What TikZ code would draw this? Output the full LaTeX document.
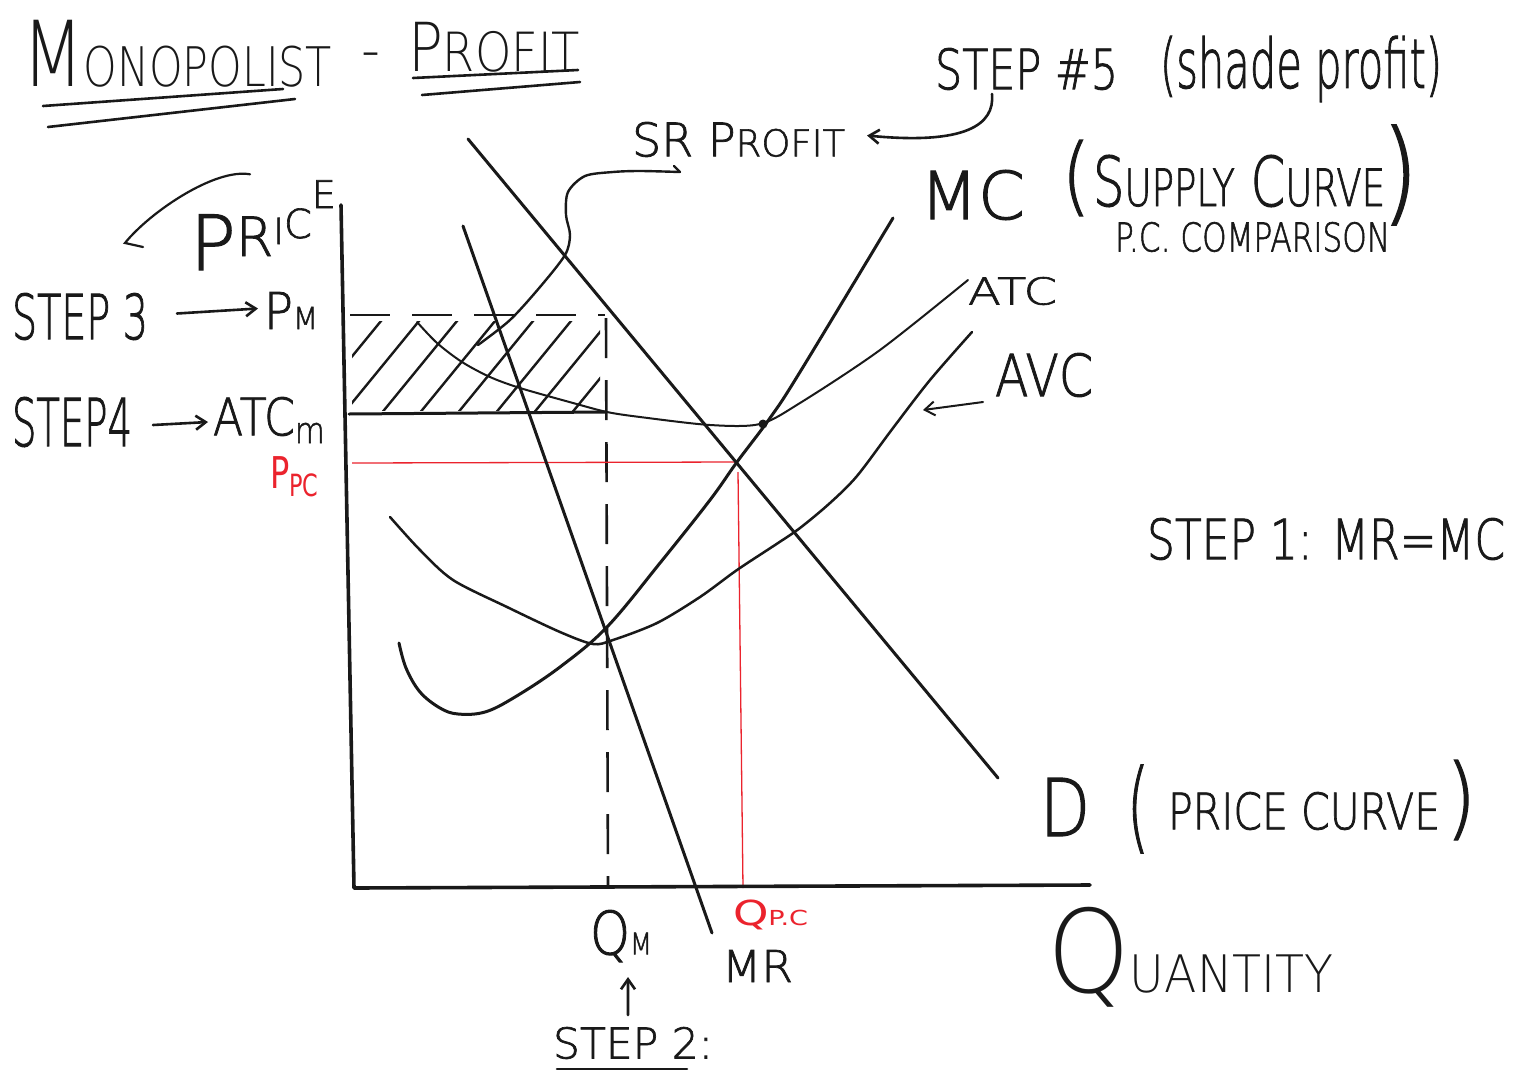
\documentclass[tikz,border=0pt]{standalone}
\usepackage{fontspec}
\usepackage{graphicx}
\setmainfont{DejaVu Sans}
\IfFontExistsTF{DejaVu Sans ExtraLight}{%
  \newfontfamily\thinf{DejaVu Sans ExtraLight}%
  \newfontfamily\medf{DejaVu Sans ExtraLight}[FakeBold=1.6]}{%
  \newfontfamily\thinf{DejaVu Sans}%
  \newfontfamily\medf{DejaVu Sans}}
\usetikzlibrary{arrows.meta}
\definecolor{ink}{RGB}{25,25,25}
\definecolor{redink}{RGB}{235,35,45}
\newcommand{\fitto}[3]{\resizebox*{#1pt}{#2pt}{#3}}
\newcommand{\fs}[1]{\fontsize{#1}{#1}\selectfont}
\tikzset{
 lab/.style={inner sep=0pt, outer sep=0pt, anchor=north west, text=ink},
 axisline/.style={draw=ink, line width=3.6pt, line cap=round, line join=round},
 curveline/.style={draw=ink, line width=3pt, line cap=round},
 thincurve/.style={draw=ink, line width=2pt, line cap=round},
 redline/.style={draw=redink, line width=1.3pt},
 hatchline/.style={draw=ink, line width=2.4pt, line cap=round},
 guide/.style={draw=ink, line width=2.6pt, dash pattern=on 40pt off 22pt},
 pen/.style={draw=ink, line width=2.6pt, line cap=round},
 penarrow/.style={pen, -{Straight Barb[length=10pt,width=14pt]}},
}
\begin{document}
\begin{tikzpicture}[x=1pt,y=-1pt]
\fill[white] (0,0) rectangle (1515,1071);
\useasboundingbox (0,0) rectangle (1515,1071);

% ---- title ----
\node[lab] (title) at (22,20) {\thinf\fitto{310}{67}{M\scalebox{.6}{ONOPOLIST}}};
\node[inner sep=0pt, text=ink] (dash) at (371,58) {\fs{34}–};
\node[lab] (profit) at (408,22) {\thinf\fitto{172}{50}{P\scalebox{.8}{ROFIT}}};
\draw[pen] (43,106) -- (283,89);
\draw[pen] (48,127) -- (295,99);
\draw[pen] (413,78) -- (578,70);
\draw[pen] (422,95) -- (580,82);

% ---- labels ----
\node[lab] (step5) at (935,48) {\medf\fitto{183}{42}{STEP \#5}};
\node[lab] (shade) at (1160,36) {\medf\fitto{282}{66}{(shade profit)}};
\node[lab] (srp) at (632,122) {\medf\fitto{213}{35}{SR P\scalebox{.8}{ROFIT}}};
\node[lab] (mc) at (920,170) {\medf\fitto{105}{50}{MC}};
\node[lab] (lp1) at (1062,140) {\medf\fitto{28}{76}{(}};
\node[lab] (supply) at (1093,155) {\medf\fitto{292}{52}{S\scalebox{.75}{UPPLY} C\scalebox{.75}{URVE}}};
\node[lab] (rp1) at (1382,125) {\medf\fitto{36}{100}{)}};
\node[lab] (pccomp) at (1115,222) {\medf\fitto{275}{30}{P.C. COMPARISON}};
\node[lab] (atclab) at (968,277) {\medf\fitto{89}{28}{ATC}};
\node[lab] (avclab) at (995,353) {\medf\fitto{98}{44}{AVC}};
\node[lab] (price) at (190,180.3) {\medf\fs{76}P\raisebox{14pt}{\fs{54}R}\raisebox{26pt}{\fs{36}I}\raisebox{32pt}{\fs{40}C}\raisebox{62pt}{\fs{38}E}};
\draw[pen, line width=2.2pt] (price.north west) ++(60,-6) .. controls (215,168) and (150,212) .. (125,243) -- (143,247);

\node[lab] (step3) at (12,293) {\medf\fitto{136}{47}{STEP 3}};
\node[lab] (pm) at (264,292) {\medf\fitto{54}{37}{P\scalebox{.6}{M}}};
\draw[penarrow] ([xshift=29pt,yshift=3pt]step3.east) -- ([xshift=-6pt,yshift=2pt]pm.west);

\node[lab] (step4) at (12,397) {\medf\fitto{120}{50}{STEP4}};
\node[lab] (atcm) at (213,397) {\medf\fitto{114}{46}{ATC\textsubscript{m}}};
\draw[penarrow] ([xshift=21pt,yshift=-3pt]step4.east) -- ([xshift=-5pt,yshift=-2pt]atcm.west);

\node[lab, text=redink] (ppc) at (270,457) {\fitto{50}{40}{P\textsubscript{PC}}};

\node[lab] (step1) at (1147,518) {\medf\fitto{358}{42}{STEP 1: MR=MC}};
\node[lab] (dlab) at (1040,778) {\medf\fitto{50}{58}{D}};
\node[lab] (lp2) at (1127,765) {\medf\fitto{22}{88}{(}};
\node[lab] (pcurve) at (1168,792) {\medf\fitto{272}{38}{PRICE CURVE}};
\node[lab] (rp2) at (1446,760) {\medf\fitto{30}{80}{)}};
\node[lab] (qty) at (1047,907) {\thinf\fitto{286}{100}{Q\scalebox{.45}{UANTITY}}};

\node[lab] (qm) at (590,910) {\medf\fitto{62}{52}{Q\scalebox{.5}{M}}};
\node[lab] (step2) at (553,1027) {\medf\fitto{160}{32}{STEP 2:}};
\draw[pen] (557,1069) -- (687,1069);
\draw[penarrow] ([xshift=-5pt,yshift=12pt]step2.north) -- ([xshift=7pt,yshift=-15pt]qm.south);
\node[lab] (mrlab) at (722,950) {\medf\fitto{71}{32}{MR}};
\node[lab, text=redink] (qpc) at (733,900) {\fitto{75}{30}{Q\scalebox{.6}{P.C}}};

% ---- shaded profit ----
\begin{scope}
\clip (352,321) rectangle (600,410);
\foreach \x in {300,338,...,600} \draw[hatchline] (\x,420) -- (\x+90,310);
\end{scope}
\draw[guide] (350,315) -- (605,315);
\draw[pen, line width=3pt] (349,414) -- (605,412);
\draw[guide] (606,318) -- (608,888);

% ---- red P.C. guides ----
\draw[redline] (352,463) -- (737,462);
\draw[redline] (738,472) -- (743,888);

% ---- axes and curves ----
\draw[axisline] (341,205) -- (354,888) -- (1090,885);
\draw[curveline] (468,139) -- (998,778);
\draw[curveline] (463,226) -- (712,933);
\draw[curveline] plot[smooth, tension=0.6] coordinates {(399,643) (406,668) (420,692) (440,708) (458,714) (485,712) (515,697) (560,667) (607,627) (660,563) (710,500) (737,462) (770,418) (800,372) (893,218)};
\draw[thincurve] plot[smooth] coordinates {(417,322) (437,343) (462,362) (490,377) (520,388) (573,403) (607,412) (640,417) (710,425) (760,424) (800,403) (880,350) (968,280)};
\draw[curveline, line width=2.5pt] plot[smooth] coordinates {(390,517) (420,550) (453,580) (507,607) (560,632) (593,644) (613,640) (657,623) (700,597) (737,570) (775,545) (800,528) (830,503) (857,476) (893,428) (930,380) (972,332)};
\fill[ink] (763,424) circle (4.5pt);

% ---- pointers ----
\coordinate (shaded) at (478,345);
\draw[pen, line width=2.4pt] ([xshift=42pt,yshift=-9pt]srp.south west) -- ([xshift=48pt,yshift=-15pt]srp.south west);
\draw[pen, line width=2.4pt] plot[smooth] coordinates {([xshift=48pt,yshift=-15pt]srp.south west) (640,171) (613,172) (585,176) (568,192) (566,215) (570,235) (565,255) (540,287) (510,320) (shaded)};
\draw[penarrow] ([xshift=57pt,yshift=-4pt]step5.south west) .. controls (995,125) and (965,145) .. ([xshift=22pt,yshift=4pt]srp.east);
\coordinate (avcpt) at (923,410);
\draw[penarrow, line width=2pt] ([xshift=-12pt,yshift=-5pt]avclab.south west) -- (avcpt);
\end{tikzpicture}
\end{document}
